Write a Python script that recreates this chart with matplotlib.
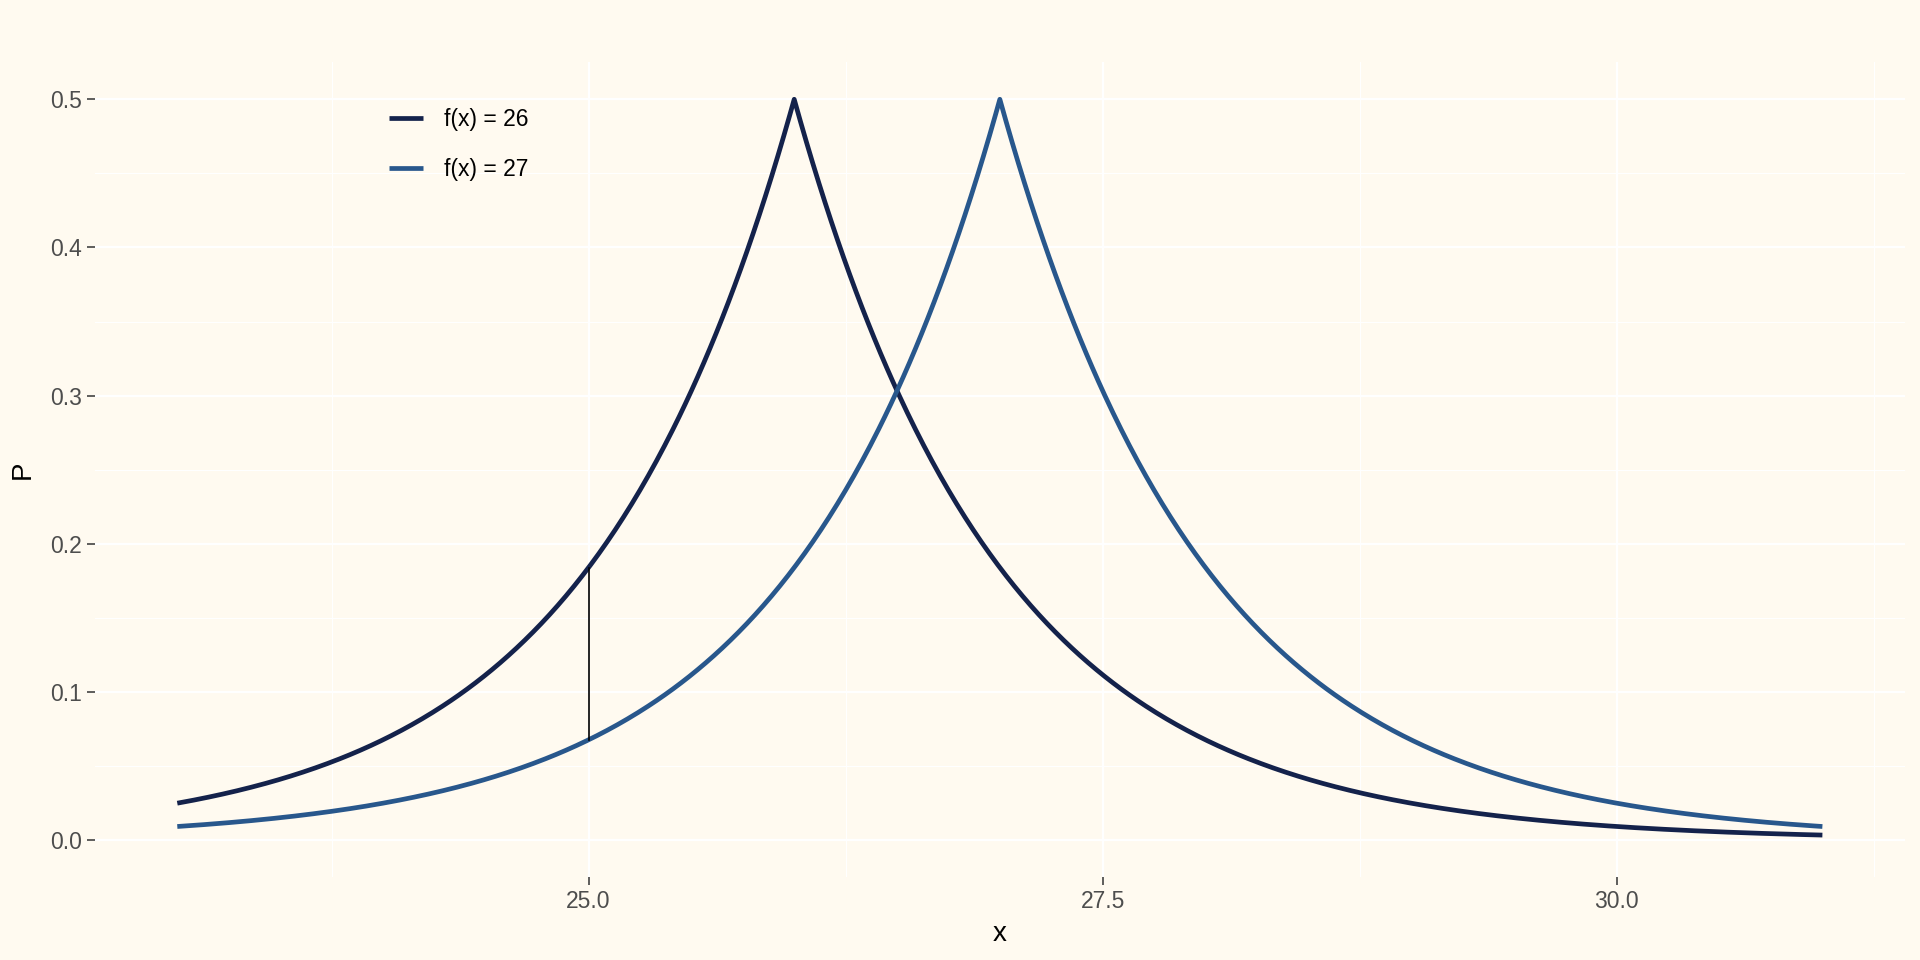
import matplotlib
matplotlib.use("Agg")
import matplotlib.pyplot as plt
import numpy as np

# chart data: two Laplace densities (location read from the peaks, scale 1)
centers = [26, 27]
labels = ["f(x) = 26", "f(x) = 27"]
colors = ["#14224B", "#28578C"]
x_min, x_max = 23.0, 31.0
seg_x = 25.0   # the vertical segment between the two curves

plt.rcParams['font.family'] = ['Liberation Sans', 'DejaVu Sans']

fig = plt.figure(figsize=(19.2, 9.6), dpi=100)
fig.patch.set_facecolor("#FFFAF0")
ax = fig.add_axes([0.0495, 0.0865, 0.9425, 0.8485])
ax.set_facecolor("#FFFAF0")

xs = np.linspace(x_min, x_max, 801)
for mu, lab, col in zip(centers, labels, colors):
    ax.plot(xs, 0.5 * np.exp(-np.abs(xs - mu)), color=col, lw=3.4, label=lab,
            solid_capstyle="butt", zorder=3)

top = 0.5 * np.exp(-abs(seg_x - centers[0]))
bot = 0.5 * np.exp(-abs(seg_x - centers[1]))
ax.plot([seg_x, seg_x], [bot, top], color="black", lw=1.2, zorder=4)

ax.set_xlim(22.6, 31.4)
ax.set_ylim(-0.0249, 0.5249)
ax.set_xticks([25, 27.5, 30])
ax.set_xticklabels(["25.0", "27.5", "30.0"])
ax.set_xticks([23.75, 26.25, 28.75, 31.25], minor=True)
ax.set_yticks([0, 0.1, 0.2, 0.3, 0.4, 0.5])
ax.set_yticklabels(["0.0", "0.1", "0.2", "0.3", "0.4", "0.5"])
ax.set_yticks(np.arange(0.05, 0.5, 0.1), minor=True)

ax.grid(which="major", color="white", lw=1.6, zorder=0)
ax.grid(which="minor", color="white", lw=0.8, zorder=0)
for s in ax.spines.values():
    s.set_visible(False)
ax.tick_params(which="major", length=5.5, width=1.1, color="#333333",
               labelsize=16.5, labelcolor="#4D4D4D", pad=4)
ax.tick_params(which="minor", length=0)

ax.set_xlabel("x", fontsize=20, labelpad=6)
ax.set_ylabel("P", fontsize=20, labelpad=10)

ax.legend(loc="upper left", bbox_to_anchor=(389 / 1920, 1 - 108 / 960),
          bbox_transform=fig.transFigure, frameon=False, fontsize=16.5,
          borderpad=0, borderaxespad=0, handlelength=1.5,
          handletextpad=0.9, labelspacing=1.18)

fig.savefig("out.png", dpi=100, facecolor=fig.get_facecolor())
